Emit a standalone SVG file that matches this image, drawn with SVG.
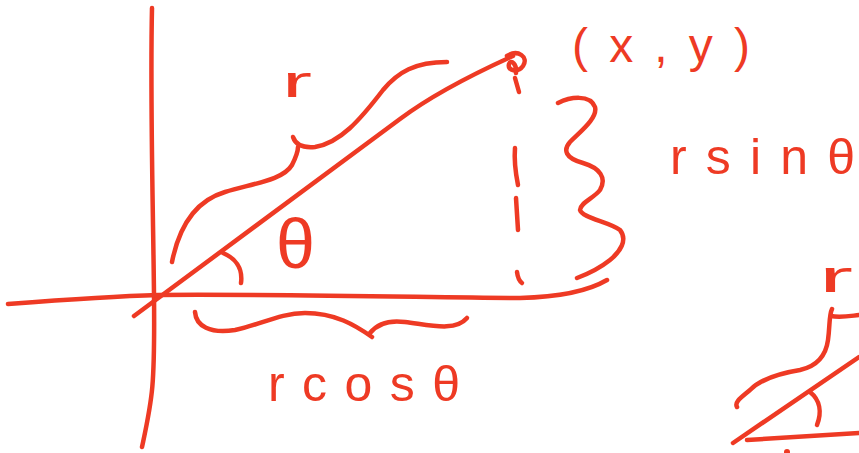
<svg xmlns="http://www.w3.org/2000/svg" width="859" height="453" viewBox="0 0 859 453">
<style>
.s{fill:none;stroke:#ee3a24;stroke-width:4.5;stroke-linecap:round;stroke-linejoin:round}
.t{fill:#ee3a24;font-family:"Liberation Sans","DejaVu Sans",sans-serif}
</style>
<rect width="859" height="453" fill="#ffffff"/>
<g id="axes">
<path class="s" d="M152,8 C150,100 153,200 154,295 S152,400 142,447"/>
<path class="s" d="M8,304 C60,300 120,296 158,295 C300,294 450,298 520,298 C560,297 590,290 607,280"/>
</g>
<g id="radius">
<path class="s" d="M134,316 L400,119 Q440,89 513,56"/>
<path class="s" d="M507,56 C518,49 529,57 523,66 C518,73 507,71 509,64 C511,59 517,64 516,73"/>
<path class="s" d="M515,78 L519,92"/>
</g>
<g id="dashes">
<path class="s" d="M515,148 C514,160 516,175 518,185"/>
<path class="s" d="M516,198 L518,230"/>
<path class="s" d="M517,272 Q518,280 522,283"/>
</g>
<g id="brace-r">
<path class="s" d="M172,262 C180,222 198,200 225,192 C255,183 283,180 292,165 C296,157 298,152 298,147"/>
<path class="s" d="M293,137 C296,146 304,148 315,147 C340,143 360,120 383,90 C398,72 415,62 447,62"/>
<text class="t" x="282" y="97" font-size="44" textLength="30" lengthAdjust="spacingAndGlyphs">r</text>
</g>
<g id="angle">
<path class="s" d="M223,253 C235,258 243,268 241,283"/>
<text class="t" x="276" y="268" font-size="70">θ</text>
</g>
<g id="brace-cos">
<path class="s" d="M195,312 C196,326 210,334 235,330 C260,325 280,313 305,313 C335,313 355,325 372,337"/>
<path class="s" d="M370,333 C378,323 390,320 405,322 C430,325 455,332 467,318"/>
<text class="t" x="268" y="401" font-size="50" textLength="192" lengthAdjust="spacing">rcosθ</text>
</g>
<g id="brace-sin">
<path class="s" d="M558,103 C570,97 590,94 595,107 C598,118 580,132 570,142 C563,150 565,158 583,163 C600,168 607,178 600,190 C594,198 580,203 580,210 C582,218 610,222 620,230 C628,240 620,252 610,260 C600,268 585,275 577,278"/>
<text class="t" x="670" y="174" font-size="50" textLength="185" lengthAdjust="spacing">rsinθ</text>
</g>
<g id="point-label">
<text class="t" x="572" y="62" font-size="48" textLength="178" lengthAdjust="spacing">(x,y)</text>
</g>
<g id="second-figure">
<path class="s" d="M733,443 L859,357"/>
<path class="s" d="M747,440 L859,433"/>
<path class="s" d="M810,392 C820,400 822,412 817,425"/>
<path class="s" d="M737,407 C734,402 742,397 750,390 C760,380 775,374 800,370 C818,366 826,355 828,340 C830,325 829,315 832,309"/>
<path class="s" d="M831,316 C840,318 850,316 859,315"/>
<circle cx="787" cy="452" r="3" fill="#ee3a24"/>
<text class="t" x="819" y="292" font-size="44" textLength="34" lengthAdjust="spacingAndGlyphs">r</text>
</g>
</svg>
